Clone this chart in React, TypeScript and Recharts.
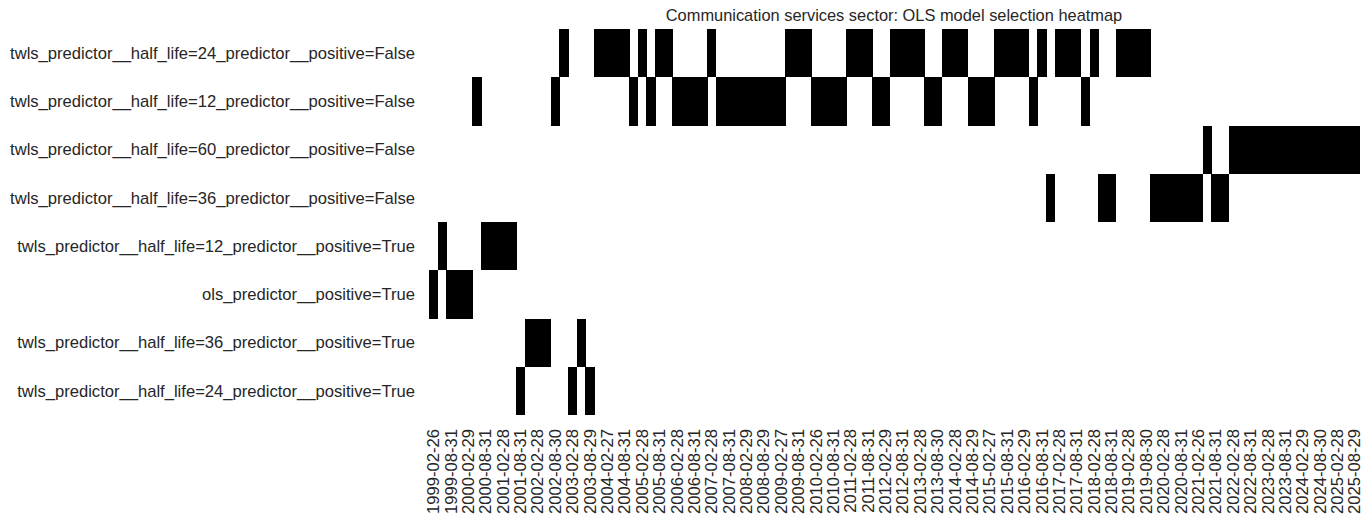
import { BarChart, Bar, XAxis, YAxis } from 'recharts';

// ── Data ────────────────────────────────────────────────
// rows, top to bottom
const models = [
  'twls_predictor__half_life=24_predictor__positive=False',
  'twls_predictor__half_life=12_predictor__positive=False',
  'twls_predictor__half_life=60_predictor__positive=False',
  'twls_predictor__half_life=36_predictor__positive=False',
  'twls_predictor__half_life=12_predictor__positive=True',
  'ols_predictor__positive=True',
  'twls_predictor__half_life=36_predictor__positive=True',
  'twls_predictor__half_life=24_predictor__positive=True',
];

const dates = [
  '1999-02-26', '1999-05-31', '1999-08-31', '1999-11-30',
  '2000-02-29', '2000-05-31', '2000-08-31', '2000-11-30',
  '2001-02-28', '2001-05-31', '2001-08-31', '2001-11-30',
  '2002-02-28', '2002-05-31', '2002-08-30', '2002-11-29',
  '2003-02-28', '2003-05-30', '2003-08-29', '2003-11-28',
  '2004-02-27', '2004-05-31', '2004-08-31', '2004-11-30',
  '2005-02-28', '2005-05-31', '2005-08-31', '2005-11-30',
  '2006-02-28', '2006-05-31', '2006-08-31', '2006-11-30',
  '2007-02-28', '2007-05-31', '2007-08-31', '2007-11-30',
  '2008-02-29', '2008-05-30', '2008-08-29', '2008-11-28',
  '2009-02-27', '2009-05-29', '2009-08-31', '2009-11-30',
  '2010-02-26', '2010-05-31', '2010-08-31', '2010-11-30',
  '2011-02-28', '2011-05-31', '2011-08-31', '2011-11-30',
  '2012-02-29', '2012-05-31', '2012-08-31', '2012-11-30',
  '2013-02-28', '2013-05-31', '2013-08-30', '2013-11-29',
  '2014-02-28', '2014-05-30', '2014-08-29', '2014-11-28',
  '2015-02-27', '2015-05-29', '2015-08-31', '2015-11-30',
  '2016-02-29', '2016-05-31', '2016-08-31', '2016-11-30',
  '2017-02-28', '2017-05-31', '2017-08-31', '2017-11-30',
  '2018-02-28', '2018-05-31', '2018-08-31', '2018-11-30',
  '2019-02-28', '2019-05-31', '2019-08-30', '2019-11-29',
  '2020-02-28', '2020-05-29', '2020-08-31', '2020-11-30',
  '2021-02-26', '2021-05-31', '2021-08-31', '2021-11-30',
  '2022-02-28', '2022-05-31', '2022-08-31', '2022-11-30',
  '2023-02-28', '2023-05-31', '2023-08-31', '2023-11-30',
  '2024-02-29', '2024-05-31', '2024-08-30', '2024-11-29',
  '2025-02-28', '2025-05-30', '2025-08-29',
];

// index into models of the model selected at each date
const selected = [
  5, 4, 5, 5, 5, 1, 4, 4, 4, 4,
  7, 6, 6, 6, 1, 0, 7, 6, 7, 0,
  0, 0, 0, 1, 0, 1, 0, 0, 1, 1,
  1, 1, 0, 1, 1, 1, 1, 1, 1, 1,
  1, 0, 0, 0, 1, 1, 1, 1, 0, 0,
  0, 1, 1, 0, 0, 0, 0, 1, 1, 0,
  0, 0, 1, 1, 1, 0, 0, 0, 0, 1,
  0, 3, 0, 0, 0, 1, 0, 3, 3, 0,
  0, 0, 0, 3, 3, 3, 3, 3, 3, 2,
  3, 3, 2, 2, 2, 2, 2, 2, 2, 2,
  2, 2, 2, 2, 2, 2, 2,
];

// ── Layout ───────────────────────────────────────────────
const WIDTH = 1356;
const HEIGHT = 507;
const AXIS_W = 421;
const PLOT_W = 930;
const TOP = 21;
const X_AXIS_H = 100;
const COL_W = PLOT_W / dates.length;
const TEXT = '#262626';
const FONT = '"Liberation Sans", Arial, sans-serif';
const FONT_SIZE = 16.6;

const rows = dates.map((date) => {
  const row: Record<string, string | number> = { date };
  models.forEach((_, i) => {
    row[`m${i}`] = 1;
  });
  return row;
});

// stack from the bottom row upwards
const stackOrder = models.map((_, i) => models.length - 1 - i);

const DateTick = ({ x, y, payload }: any) => (
  <text
    x={x}
    y={y}
    transform={`rotate(-90, ${x}, ${y})`}
    textAnchor="end"
    dy="0.35em"
    fontSize={FONT_SIZE}
    fontFamily={FONT}
    fill={TEXT}
  >
    {payload.value}
  </text>
);

const ModelTick = ({ x, y, payload }: any) => (
  <text
    x={x}
    y={y}
    textAnchor="end"
    dy="0.35em"
    fontSize={FONT_SIZE}
    fontFamily={FONT}
    fill={TEXT}
  >
    {models[models.length - 1 - Math.floor(payload.value)]}
  </text>
);

// only the selected cell is painted; slight overlap hides seams between columns
const cellShape = (modelIdx: number) => (props: any) => {
  const { x, y, height, index } = props;
  if (selected[index] !== modelIdx) return <g />;
  return (
    <rect
      x={x}
      y={y}
      width={COL_W + 0.6}
      height={height}
      fill="#000"
      shapeRendering="crispEdges"
    />
  );
};

export default function App() {
  return (
    <div style={{ position: 'relative', width: WIDTH, height: HEIGHT, background: '#fff' }}>
      <div
        style={{
          position: 'absolute',
          left: AXIS_W,
          top: -1,
          width: PLOT_W,
          textAlign: 'center',
          fontFamily: FONT,
          fontSize: 16.4,
          lineHeight: '16px',
          color: TEXT,
          whiteSpace: 'nowrap',
        }}
      >
        Communication services sector: OLS model selection heatmap
      </div>
      <BarChart
        width={WIDTH}
        height={HEIGHT}
        data={rows}
        margin={{ top: TOP, right: WIDTH - AXIS_W - PLOT_W, bottom: 0, left: 0 }}
        barCategoryGap={0}
        barGap={0}
      >
        <XAxis
          dataKey="date"
          interval={1}
          height={X_AXIS_H}
          tickLine={false}
          axisLine={false}
          tickSize={6}
          tickMargin={8}
          tick={<DateTick />}
        />
        <YAxis
          type="number"
          domain={[0, models.length]}
          ticks={[0.5, 1.5, 2.5, 3.5, 4.5, 5.5, 6.5, 7.5]}
          width={AXIS_W}
          tickLine={false}
          axisLine={false}
          tickSize={6}
          tickMargin={8}
          tick={<ModelTick />}
        />
        {stackOrder.map((m) => (
          <Bar
            key={m}
            dataKey={`m${m}`}
            stackId="s"
            shape={cellShape(m)}
            isAnimationActive={false}
          />
        ))}
      </BarChart>
    </div>
  );
}
